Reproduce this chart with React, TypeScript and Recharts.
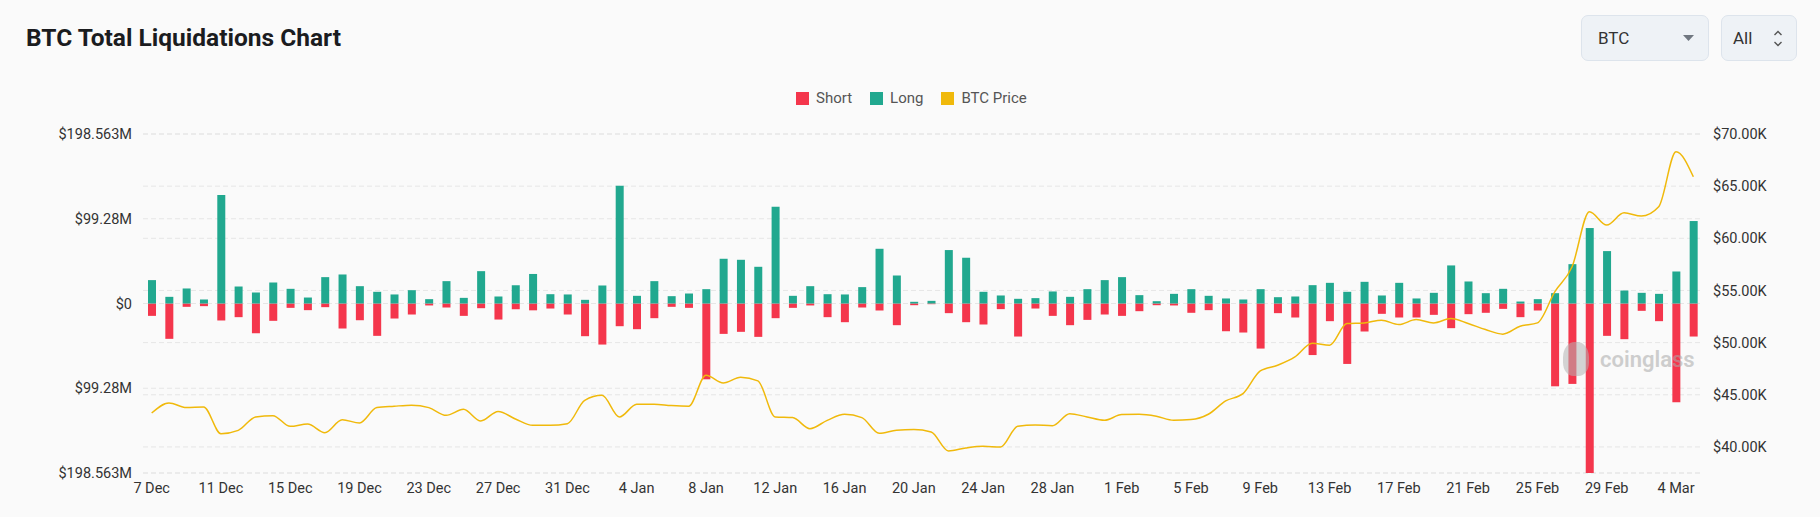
import React from 'react';
import { ComposedChart, Bar, Line, XAxis, YAxis, CartesianGrid } from 'recharts';

const dates = [
  '7 Dec','8 Dec','9 Dec','10 Dec','11 Dec','12 Dec','13 Dec','14 Dec','15 Dec','16 Dec','17 Dec','18 Dec','19 Dec','20 Dec','21 Dec','22 Dec','23 Dec','24 Dec','25 Dec','26 Dec','27 Dec','28 Dec','29 Dec','30 Dec','31 Dec',
  '1 Jan','2 Jan','3 Jan','4 Jan','5 Jan','6 Jan','7 Jan','8 Jan','9 Jan','10 Jan','11 Jan','12 Jan','13 Jan','14 Jan','15 Jan','16 Jan','17 Jan','18 Jan','19 Jan','20 Jan','21 Jan','22 Jan','23 Jan','24 Jan','25 Jan','26 Jan','27 Jan','28 Jan','29 Jan','30 Jan','31 Jan',
  '1 Feb','2 Feb','3 Feb','4 Feb','5 Feb','6 Feb','7 Feb','8 Feb','9 Feb','10 Feb','11 Feb','12 Feb','13 Feb','14 Feb','15 Feb','16 Feb','17 Feb','18 Feb','19 Feb','20 Feb','21 Feb','22 Feb','23 Feb','24 Feb','25 Feb','26 Feb','27 Feb','28 Feb','29 Feb',
  '1 Mar','2 Mar','3 Mar','4 Mar','5 Mar',
];

// Long liquidations, $M
const longLiq = [
  27.4, 7.8, 17.6, 4.7, 127.1, 19.9, 12.9, 24.6, 17.2, 7.0,
  30.9, 34.0, 20.3, 13.7, 10.6, 15.6, 5.1, 26.2, 6.6, 37.9,
  8.2, 21.5, 34.6, 10.9, 10.6, 4.3, 21.1, 138.0, 9.0, 26.2,
  8.6, 11.7, 16.8, 52.4, 51.2, 43.0, 113.4, 9.0, 20.3, 10.9,
  10.6, 19.2, 64.1, 32.8, 2.0, 3.1, 62.6, 53.6, 13.7, 9.4,
  5.5, 6.3, 14.1, 7.8, 16.8, 27.4, 30.9, 9.8, 2.7, 11.3,
  16.8, 9.0, 5.9, 4.7, 16.8, 7.4, 8.2, 21.5, 24.2, 13.7,
  25.4, 9.4, 24.2, 5.9, 12.5, 44.6, 25.8, 12.1, 17.2, 2.3,
  5.1, 12.1, 46.1, 88.4, 61.4, 15.2, 12.5, 11.3, 37.5, 96.6,
];

// Short liquidations, $M
const shortLiq = [
  14.5, 41.4, 3.9, 3.1, 19.9, 16.0, 34.8, 20.3, 5.1, 7.8,
  4.3, 29.3, 19.6, 37.9, 17.6, 12.9, 2.3, 4.7, 14.5, 5.5,
  18.8, 6.6, 8.0, 5.9, 12.9, 38.3, 48.1, 26.6, 30.1, 17.2,
  3.9, 5.1, 88.8, 35.6, 33.2, 39.1, 17.2, 5.1, 2.3, 16.0,
  21.9, 4.7, 8.2, 25.4, 2.0, 0.8, 11.3, 21.9, 24.6, 6.6,
  38.7, 5.9, 14.5, 25.4, 19.2, 12.9, 14.5, 9.0, 2.0, 2.3,
  10.9, 7.8, 32.5, 34.0, 52.8, 11.3, 16.4, 60.4, 20.7, 70.8,
  32.8, 12.1, 16.4, 16.4, 13.3, 28.9, 12.5, 10.9, 6.3, 16.0,
  8.2, 97.0, 94.2, 198.563, 37.9, 41.8, 8.6, 20.7, 115.7, 38.7,
];

// BTC price, $
const btcPrice = [
  43250, 44220, 43770, 43830, 41270, 41590, 42870, 43000, 41970, 42200,
  41370, 42600, 42300, 43770, 43900, 44000, 43770, 43030, 43600, 42490,
  43400, 42680, 42070, 42070, 42230, 44470, 44950, 42870, 44090, 44090,
  43960, 43900, 46870, 46130, 46680, 46330, 42870, 42810, 41750, 42550,
  43130, 42810, 41300, 41590, 41660, 41430, 39610, 39900, 40060, 39990,
  41980, 42100, 42040, 43190, 42870, 42550, 43100, 43130, 42940, 42550,
  42620, 43130, 44410, 45110, 47290, 47830, 48630, 49940, 49750, 51830,
  51890, 52150, 51730, 52210, 51890, 52310, 51830, 51250, 50810, 51570,
  51890, 54870, 57270, 62550, 61270, 62450, 62130, 63030, 68300, 65900,
];

const leftTicks = [-198.563, -99.28, 0, 99.28, 198.563];
const rightTicks = [40000, 45000, 50000, 55000, 60000, 65000, 70000];

const data = dates.map((d, i) => ({
  date: d,
  short: -shortLiq[i],
  long: longLiq[i],
  price: btcPrice[i],
}));

const RED = '#f4364c';
const GREEN = '#21a88f';
const YELLOW = '#f0b90b';
const FONT = 'Roboto, "Noto Sans", sans-serif';

const tickStyle = { fill: '#333', fontSize: 14.5, fontFamily: FONT };

function LegendItem({ color, label }: { color: string; label: string }) {
  return (
    <div style={{ display: 'flex', alignItems: 'center', marginRight: 18 }}>
      <div style={{ width: 13, height: 13, background: color, marginRight: 7 }} />
      <span style={{ fontSize: 15, color: '#555', fontFamily: FONT }}>{label}</span>
    </div>
  );
}

export default function App() {
  return (
    <div
      style={{
        position: 'absolute',
        left: 0,
        top: 0,
        width: 1820,
        height: 517,
        background: '#fafafa',
        fontFamily: FONT,
        overflow: 'hidden',
      }}
    >
      <div
        style={{
          position: 'absolute',
          left: 26,
          top: 26,
          fontSize: 24.5,
          lineHeight: '24px',
          fontWeight: 700,
          color: '#1b1c1f',
        }}
      >
        BTC Total Liquidations Chart
      </div>

      {/* selectors */}
      <div
        style={{
          position: 'absolute',
          left: 1581,
          top: 15,
          width: 128,
          height: 46,
          boxSizing: 'border-box',
          border: '1px solid #dde4ec',
          borderRadius: 7,
          background: '#eef2f6',
        }}
      >
        <span style={{ position: 'absolute', left: 16, top: 12, fontSize: 17, color: '#333' }}>BTC</span>
        <svg style={{ position: 'absolute', left: 101, top: 19 }} width="11" height="7">
          <path d="M0 0 L11 0 L5.5 6 Z" fill="#707780" />
        </svg>
      </div>
      <div
        style={{
          position: 'absolute',
          left: 1721,
          top: 15,
          width: 76,
          height: 46,
          boxSizing: 'border-box',
          border: '1px solid #dde4ec',
          borderRadius: 7,
          background: '#eef2f6',
        }}
      >
        <span style={{ position: 'absolute', left: 11, top: 12, fontSize: 17, color: '#333' }}>All</span>
        <svg style={{ position: 'absolute', left: 51, top: 14 }} width="10" height="18">
          <path d="M1.5 5 L5 1.5 L8.5 5" stroke="#555" strokeWidth="1.4" fill="none" />
          <path d="M1.5 12 L5 15.5 L8.5 12" stroke="#555" strokeWidth="1.4" fill="none" />
        </svg>
      </div>

      {/* legend */}
      <div
        style={{
          position: 'absolute',
          left: 796,
          top: 88,
          height: 20,
          display: 'flex',
          alignItems: 'center',
        }}
      >
        <LegendItem color={RED} label="Short" />
        <LegendItem color={GREEN} label="Long" />
        <LegendItem color={YELLOW} label="BTC Price" />
      </div>

      <div style={{ position: 'absolute', left: 0, top: 0 }}>
        <ComposedChart
          width={1820}
          height={517}
          data={data}
          stackOffset="sign"
          margin={{ top: 134, right: 0, bottom: 14, left: 0 }}
        >
          <CartesianGrid
            yAxisId="left"
            vertical={false}
            stroke="#e6e6e6"
            strokeDasharray="5 3"
          />
          <CartesianGrid
            yAxisId="right"
            vertical={false}
            stroke="#e6e6e6"
            strokeDasharray="5 3"
          />
          <XAxis
            dataKey="date"
            interval={3}
            axisLine={false}
            tickLine={false}
            tickSize={0}
            tickMargin={10}
            height={30}
            tick={tickStyle}
          />
          <YAxis
            yAxisId="left"
            orientation="left"
            width={143}
            domain={[-198.563, 198.563]}
            ticks={leftTicks}
            axisLine={false}
            tickLine={false}
            tickSize={0}
            tickMargin={11}
            tick={tickStyle}
            tickFormatter={(v: number) => (v === 0 ? '$0' : `$${Math.abs(v)}M`)}
          />
          <YAxis
            yAxisId="right"
            orientation="right"
            width={118}
            domain={[37500, 70000]}
            ticks={rightTicks}
            axisLine={false}
            tickLine={false}
            tickSize={0}
            tickMargin={11}
            tick={tickStyle}
            tickFormatter={(v: number) => `$${(v / 1000).toFixed(2)}K`}
          />
          <Bar
            yAxisId="left"
            dataKey="short"
            name="Short"
            stackId="liq"
            fill={RED}
            barSize={8}
            isAnimationActive={false}
          />
          <Bar
            yAxisId="left"
            dataKey="long"
            name="Long"
            stackId="liq"
            fill={GREEN}
            barSize={8}
            isAnimationActive={false}
          />
          <Line
            yAxisId="right"
            dataKey="price"
            name="BTC Price"
            type="monotone"
            stroke={YELLOW}
            strokeWidth={1.5}
            dot={false}
            activeDot={false}
            isAnimationActive={false}
          />
        </ComposedChart>
      </div>

      {/* watermark */}
      <div
        style={{
          position: 'absolute',
          left: 1563,
          top: 342,
          display: 'flex',
          alignItems: 'center',
          opacity: 0.55,
          pointerEvents: 'none',
        }}
      >
        <div
          style={{
            width: 26,
            height: 34,
            borderRadius: '45% 45% 40% 40%',
            background: '#b5b5b5',
            marginRight: 11,
          }}
        />
        <span style={{ fontSize: 22, fontWeight: 600, color: '#a9a9a9', fontFamily: FONT }}>coinglass</span>
      </div>
    </div>
  );
}
